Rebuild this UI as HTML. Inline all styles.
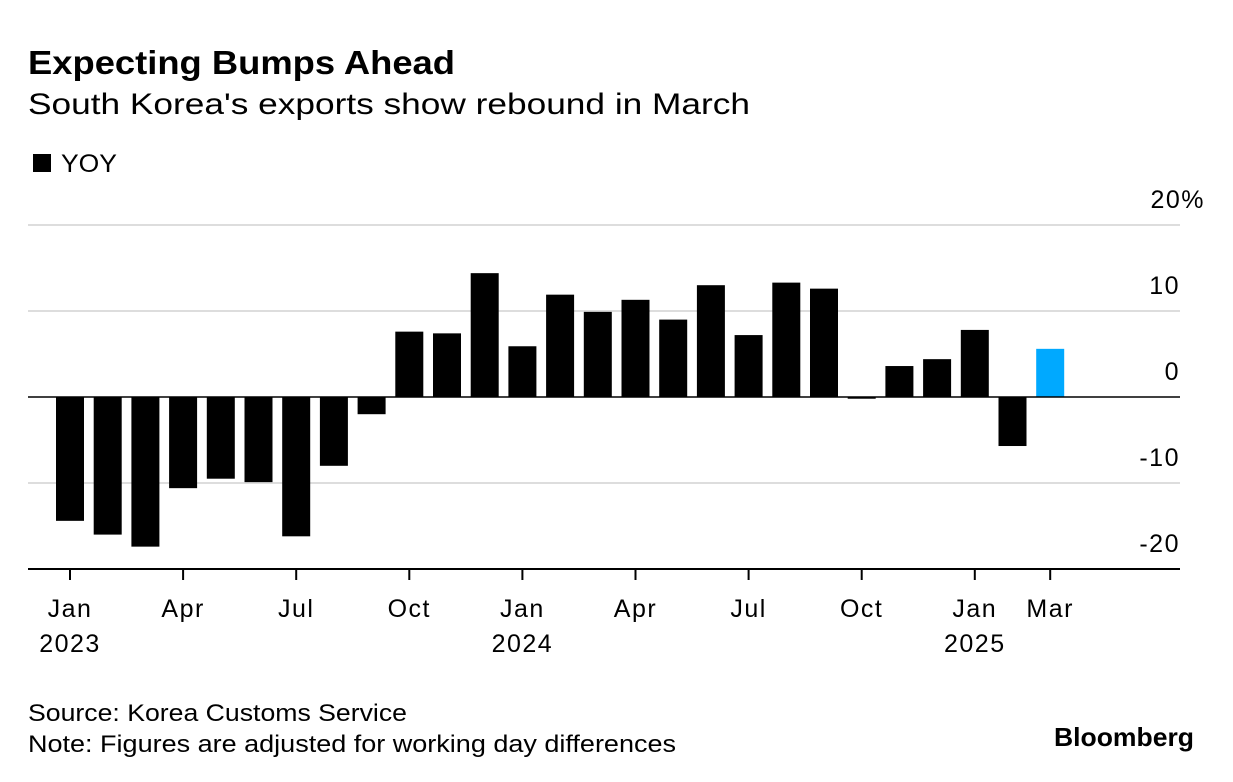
<!DOCTYPE html>
<html><head><meta charset="utf-8"><style>
body{margin:0;background:#fff;font-family:"Liberation Sans",sans-serif;}
svg{display:block}
</style></head><body>
<svg width="1233" height="782" viewBox="0 0 1233 782">
<text x="28" y="74" font-size="33" font-weight="bold" fill="#000" textLength="427" lengthAdjust="spacingAndGlyphs">Expecting Bumps Ahead</text>
<text x="28" y="114" font-size="30" fill="#000" textLength="722" lengthAdjust="spacingAndGlyphs">South Korea's exports show rebound in March</text>
<g>
<rect x="33" y="154" width="18" height="18" fill="#000"/>
<text x="61" y="172" font-size="25" fill="#000" textLength="56" lengthAdjust="spacingAndGlyphs">YOY</text>
</g>
<g id="grid"></g>
<g id="bars"></g>
<g id="axes"></g>
<text x="28" y="721" font-size="24" fill="#000" textLength="379" lengthAdjust="spacingAndGlyphs">Source: Korea Customs Service</text>
<text x="28" y="752" font-size="24" fill="#000" textLength="648" lengthAdjust="spacingAndGlyphs">Note: Figures are adjusted for working day differences</text>
<text x="1194" y="746" font-size="26" font-weight="bold" text-anchor="end" fill="#000" textLength="140" lengthAdjust="spacingAndGlyphs">Bloomberg</text>
</svg>
<script>
const months = ["2023-01","2023-02","2023-03","2023-04","2023-05","2023-06","2023-07","2023-08","2023-09","2023-10","2023-11","2023-12","2024-01","2024-02","2024-03","2024-04","2024-05","2024-06","2024-07","2024-08","2024-09","2024-10","2024-11","2024-12","2025-01","2025-02","2025-03"];
const yoy = [-14.4,-16.0,-17.4,-10.6,-9.5,-9.9,-16.2,-8.0,-2.0,7.6,7.4,14.4,5.9,11.9,9.9,11.3,9.0,13.0,7.2,13.3,12.6,-0.2,3.6,4.4,7.8,-5.7,5.6];
const yTicks = [20,10,0,-10,-20];
const yTickLabels = ["20%","10","0","-10","-20"];
const xTickIdx = [0,3,6,9,12,15,18,21,24,26];
const xTickLabels = ["Jan","Apr","Jul","Oct","Jan","Apr","Jul","Oct","Jan","Mar"];
const yearIdx = [0,12,24];
const yearLabels = ["2023","2024","2025"];

const NS="http://www.w3.org/2000/svg";
const y=v=>397-v*8.6;
const x=i=>70+i*37.7;
const bw=28, L=28, R=1180;
function mk(tag,attrs,parent,txt){const e=document.createElementNS(NS,tag);for(const k in attrs)e.setAttribute(k,attrs[k]);if(txt!==undefined)e.textContent=txt;document.getElementById(parent).appendChild(e);return e;}
yTicks.forEach((t,k)=>{
  if(t!==0&&t!==-20){const g=mk('line',{x1:L,x2:R,y1:y(t),y2:y(t),stroke:'#ddd','stroke-width':2},'grid');
  
  }
  const lb=mk('text',{x:t===20?1205:1180,y:y(t)-17,'font-size':25,'letter-spacing':1.5,'text-anchor':'end',fill:'#000'},'grid',yTickLabels[k]);
  
  
});
yoy.forEach((v,i)=>{
  const top=Math.min(y(v),y(0)), h=Math.max(Math.abs(y(v)-y(0)),1);
  const r=mk('rect',{x:x(i)-bw/2,y:top,width:bw,height:h,fill:i===yoy.length-1?'#00a9ff':'#000'},'bars');
  
  
});
const z=mk('line',{x1:L,x2:R,y1:y(0),y2:y(0),stroke:'#000','stroke-width':1.5},'axes');


const ax=mk('line',{x1:L,x2:R,y1:569,y2:569,stroke:'#000','stroke-width':2},'axes');


xTickIdx.forEach((idx,k)=>{
  const tk=mk('line',{x1:x(idx),x2:x(idx),y1:569,y2:580,stroke:'#000','stroke-width':2},'axes');
  
  
  const lb=mk('text',{x:x(idx),y:617,'font-size':25,'letter-spacing':1.5,'text-anchor':'middle',fill:'#000'},'axes',xTickLabels[k]);
  
  
});
yearIdx.forEach((idx,k)=>{
  const lb=mk('text',{x:x(idx),y:652,'font-size':25,'letter-spacing':1.5,'text-anchor':'middle',fill:'#000'},'axes',yearLabels[k]);
  
  
});
</script>
</body></html>
